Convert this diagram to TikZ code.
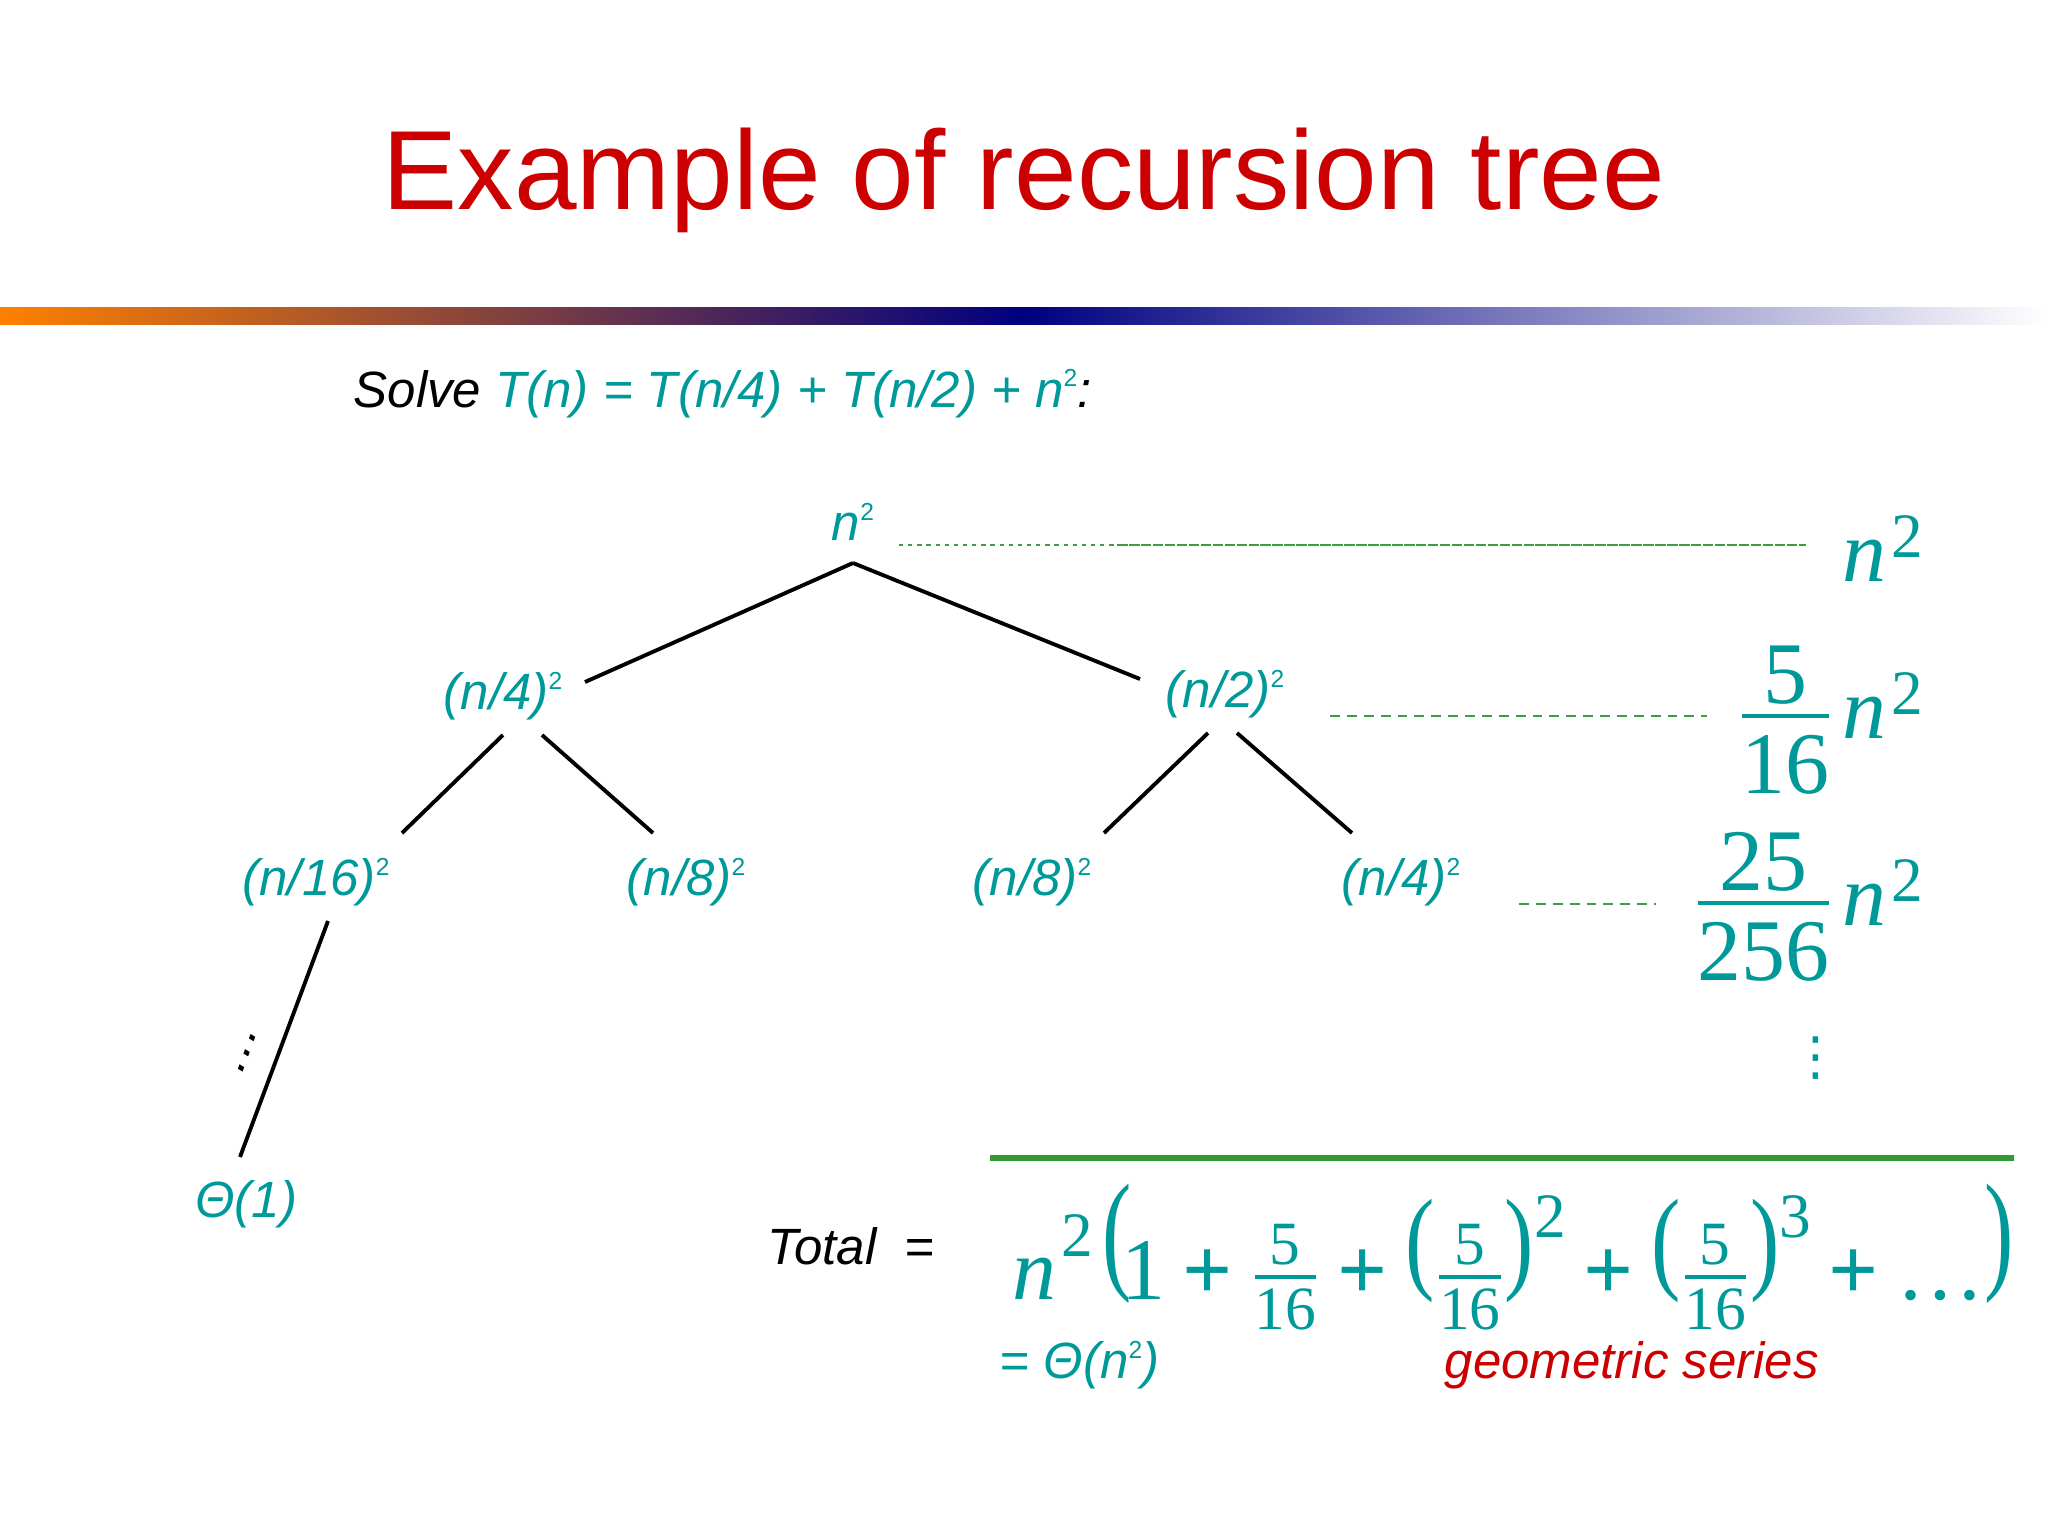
\documentclass[tikz,border=0pt]{standalone}
\usepackage{fontspec}
\usepackage{amsmath}
\usepackage{graphicx}
\setmainfont{Liberation Sans}
\newfontfamily\tms{Liberation Serif}
\newfontfamily\djv{DejaVu Sans}
\usetikzlibrary{positioning}
\definecolor{Teal}{HTML}{009999}
\definecolor{Head}{HTML}{CC0000}
\definecolor{Lvl}{HTML}{3D9E3D}
\definecolor{Sum}{HTML}{339933}
\definecolor{Ora}{HTML}{FF8000}
\definecolor{Navy}{HTML}{000080}
\newcommand\sq{\raisebox{0.4em}{\fontsize{7}{7}\selectfont\upshape 2}}
\newcommand\ffrac[2]{$\frac{\text{#1}}{\text{#2}}$}
\newcommand\bfrac[2]{$\textstyle\frac{\mbox{#1}}{\mbox{\rule{0pt}{0.82em}#2}}$\kern0.1em}
\newcommand\nsq[1]{{\itshape n}\kern0.06em\raisebox{#1}{\fontsize{18}{18}\selectfont 2}}
\newcommand\hi[1]{\raisebox{0.7em}{\fontsize{18}{18}\selectfont #1}}
\newcommand\bpar[3]{\raisebox{#2}{\scalebox{1}[#1]{#3}}}
\newcommand\pl{\hspace{0.2em}{\bfseries+}\hspace{0.2em}}
\begin{document}
\begin{tikzpicture}[x=0.01cm,y=-0.01cm,
  txt/.style={font=\fontsize{14.5}{17}\selectfont\itshape, inner sep=0pt},
  term/.style={txt, text=Teal},
  big/.style={font=\fontsize{25}{30}\selectfont\tms, text=Teal, inner sep=0pt},
  edge/.style={black, line width=1.1pt},
  lvl/.style={Lvl, line width=0.6pt}]
  \useasboundingbox (0,0) rectangle (2048,1536);
  \node[font=\fontsize{32}{38}\selectfont, text=Head, anchor=base, inner sep=0pt] (title) at (1024,209) {Example of recursion tree};
  \shade[left color=Ora, right color=white, middle color=Navy] (0,307) rectangle (2048,324);
  \node[txt, anchor=base west] (solve) at (353,407) {Solve \textcolor{Teal}{T(n) = T(n/4) + T(n/2) + n\sq}:};
  \node[term] (root) at (853,522) {n\sq};
  \node[term] (l4) at (503,696) {(n/4)\sq};
  \node[term] (l2) at (1225,694) {(n/2)\sq};
  \node[term] (l16) at (316,882) {(n/16)\sq};
  \node[term] (l8a) at (686,882) {(n/8)\sq};
  \node[term] (l8b) at (1032,882) {(n/8)\sq};
  \node[term] (l4b) at (1401,882) {(n/4)\sq};
  \node[term] (leaf) at (246,1204) {Θ(1)};
  \foreach \s/\sx/\sy/\t/\tx/\ty in {root/0/41/l4/82/-14, root/0/41/l2/-85/-15,
    l4/0/39/l16/86/-49, l4/39/39/l8a/-33/-49, l2/-17/39/l8b/72/-49,
    l2/12/39/l4b/-49/-49, l16/12/39/leaf/-6/-47}
    \draw[edge] ([shift={(\sx,\sy)}]\s.center) -- ([shift={(\tx,\ty)}]\t.center);
  \node[txt, rotate=70] (skip) at (248,1052) {\dots};
  \node[big, anchor=base east] (r1) at (1924,581) {\nsq{0.27em}};
  \node[big, anchor=base east] (r2) at (1924,738) {\bfrac{5}{16}\nsq{0.27em}};
  \node[big, anchor=base east] (r3) at (1924,925) {\bfrac{25}{256}\nsq{0.27em}};
  \node[font=\fontsize{15}{18}\selectfont\djv, text=Teal, inner sep=0pt] (vd) at (1816,1058) {⋮};
  \coordinate (m1) at (1117,545);
  \draw[lvl, dash pattern=on 1.2pt off 1.4pt] ([shift={(46,23)}]root.center) -- (m1);
  \draw[lvl, dash pattern=on 3pt off 0.4pt] (m1) -- ([shift={(-118,-36)}]r1.base east);
  \draw[lvl, dash pattern=on 2.8pt off 2pt] ([shift={(105,22)}]l2.center) -- ([shift={(-217,-22)}]r2.base east);
  \draw[lvl, dash pattern=on 2.8pt off 2pt] ([shift={(118,22)}]l4b.center) -- ([shift={(-268,-21)}]r3.base east);
  \draw[Sum, line width=1.8pt] (990,1158) -- (2014,1158);
  \node[txt, anchor=base west] (total) at (767,1264) {Total\hspace{0.55em}=};
  \node[big, anchor=base west] (sum) at (1012,1299) {\nsq{0.48em}\hspace{0.1em}\bpar{1.5}{0.27em}{(}\kern-0.12em 1\pl\ffrac{5}{16}\pl\bpar{1.3}{0.23em}{(}\ffrac{5}{16}\bpar{1.3}{0.23em}{)}\hi{2}\pl\bpar{1.3}{0.23em}{(}\ffrac{5}{16}\bpar{1.3}{0.23em}{)}\hi{3}\pl\dots\bpar{1.5}{0.27em}{)}};
  \node[term, anchor=west] (theta) at (999,1365) {= Θ(n\sq)};
  \node[txt, text=Head, anchor=west] (geo) at (1444,1365) {geometric series};
\end{tikzpicture}
\end{document}
